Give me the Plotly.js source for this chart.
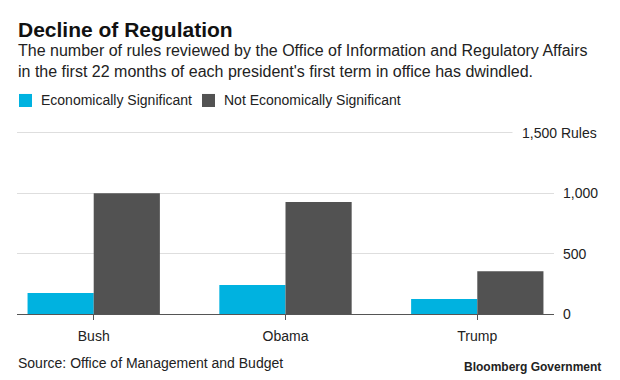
<!DOCTYPE html>
<html><head><meta charset="utf-8">
<script src="https://cdn.plot.ly/plotly-3.0.1.min.js"></script>
<style>html,body{margin:0;padding:0;background:#fff}#chart{width:620px;height:380px}</style>
</head><body><div id="chart"></div>
<script>
const presidents = ['Bush', 'Obama', 'Trump'];
const econSignificant = [175, 240, 124];
const notEconSignificant = [1000, 928, 355];
const seriesNames = ['Economically Significant', 'Not Economically Significant'];
const seriesColors = ['#00b2e0', '#525252'];
const yTickVals = [0, 500, 1000, 1500];
const yTickText = ['0', '500', '1,000', ''];

const FONT = 'Liberation Sans, Arial, Helvetica, sans-serif';
const TXT = '#222';
// plot area: x 17..554 px, y 128..314 px
const traces = [
  {type:'bar', name:seriesNames[0], x:presidents, y:econSignificant, marker:{color:seriesColors[0]}, hoverinfo:'none', showlegend:false},
  {type:'bar', name:seriesNames[1], x:presidents, y:notEconSignificant, marker:{color:seriesColors[1]}, hoverinfo:'none', showlegend:false}
];
const layout = {
  width:620, height:380,
  margin:{l:17, r:66, t:128, b:66, pad:0},
  paper_bgcolor:'#fff', plot_bgcolor:'#fff',
  font:{family:FONT, size:14, color:TXT},
  barmode:'group', bargap:0.31, bargroupgap:0,
  showlegend:false,
  xaxis:{range:[-0.4, 2.4], showline:true, linecolor:'#555', linewidth:1, ticks:'outside', ticklen:5, tickcolor:'#555', showgrid:false, tickfont:{size:14, color:TXT}, ticklabelstandoff:4, fixedrange:true},
  yaxis:{side:'right', range:[0,1541], tickvals:yTickVals, ticktext:yTickText, showgrid:true, gridcolor:'#dedede', gridwidth:1, zeroline:false, showline:false, ticks:'', tickfont:{size:14, color:TXT}, ticklabelstandoff:8, fixedrange:true},
  shapes:[
    {type:'rect', xref:'paper', yref:'paper', x0:0.0037, x1:0.0279, y0:1.113, y1:1.183, fillcolor:seriesColors[0], line:{width:0}},
    {type:'rect', xref:'paper', yref:'paper', x0:0.3445, x1:0.3687, y0:1.113, y1:1.183, fillcolor:seriesColors[1], line:{width:0}}
  ],
  annotations:[
    {xref:'paper', yref:'paper', x:-0.002, y:1.532, xanchor:'left', yanchor:'middle', text:'<b>Decline of Regulation</b>', showarrow:false, font:{size:21, color:'#111'}},
    {xref:'paper', yref:'paper', x:-0.002, y:1.358, xanchor:'left', yanchor:'middle', align:'left', text:'The number of rules reviewed by the Office of Information and Regulatory Affairs<br>in the first 22 months of each president\'s first term in office has dwindled.', showarrow:false, font:{size:16, color:TXT}},
    {xref:'paper', yref:'paper', x:0.041, y:1.150, xanchor:'left', yanchor:'middle', text:seriesNames[0], showarrow:false, font:{size:14, color:TXT}},
    {xref:'paper', yref:'paper', x:0.382, y:1.150, xanchor:'left', yanchor:'middle', text:seriesNames[1], showarrow:false, font:{size:14, color:TXT}},
    {xref:'paper', yref:'y', x:1.0987, y:1500, xanchor:'right', yanchor:'middle', text:'1,500 Rules', showarrow:false, bgcolor:'#fff', borderpad:9, font:{size:14, color:TXT}},
    {xref:'paper', yref:'paper', x:-0.002, y:-0.263, xanchor:'left', yanchor:'middle', text:'Source: Office of Management and Budget', showarrow:false, font:{size:14, color:TXT}},
    {xref:'paper', yref:'paper', x:1.091, y:-0.285, xanchor:'right', yanchor:'middle', text:'<b>Bloomberg Government</b>', showarrow:false, font:{size:12, color:TXT}}
  ]
};
Plotly.newPlot('chart', traces, layout, {displayModeBar:false, staticPlot:true});
</script></body></html>
